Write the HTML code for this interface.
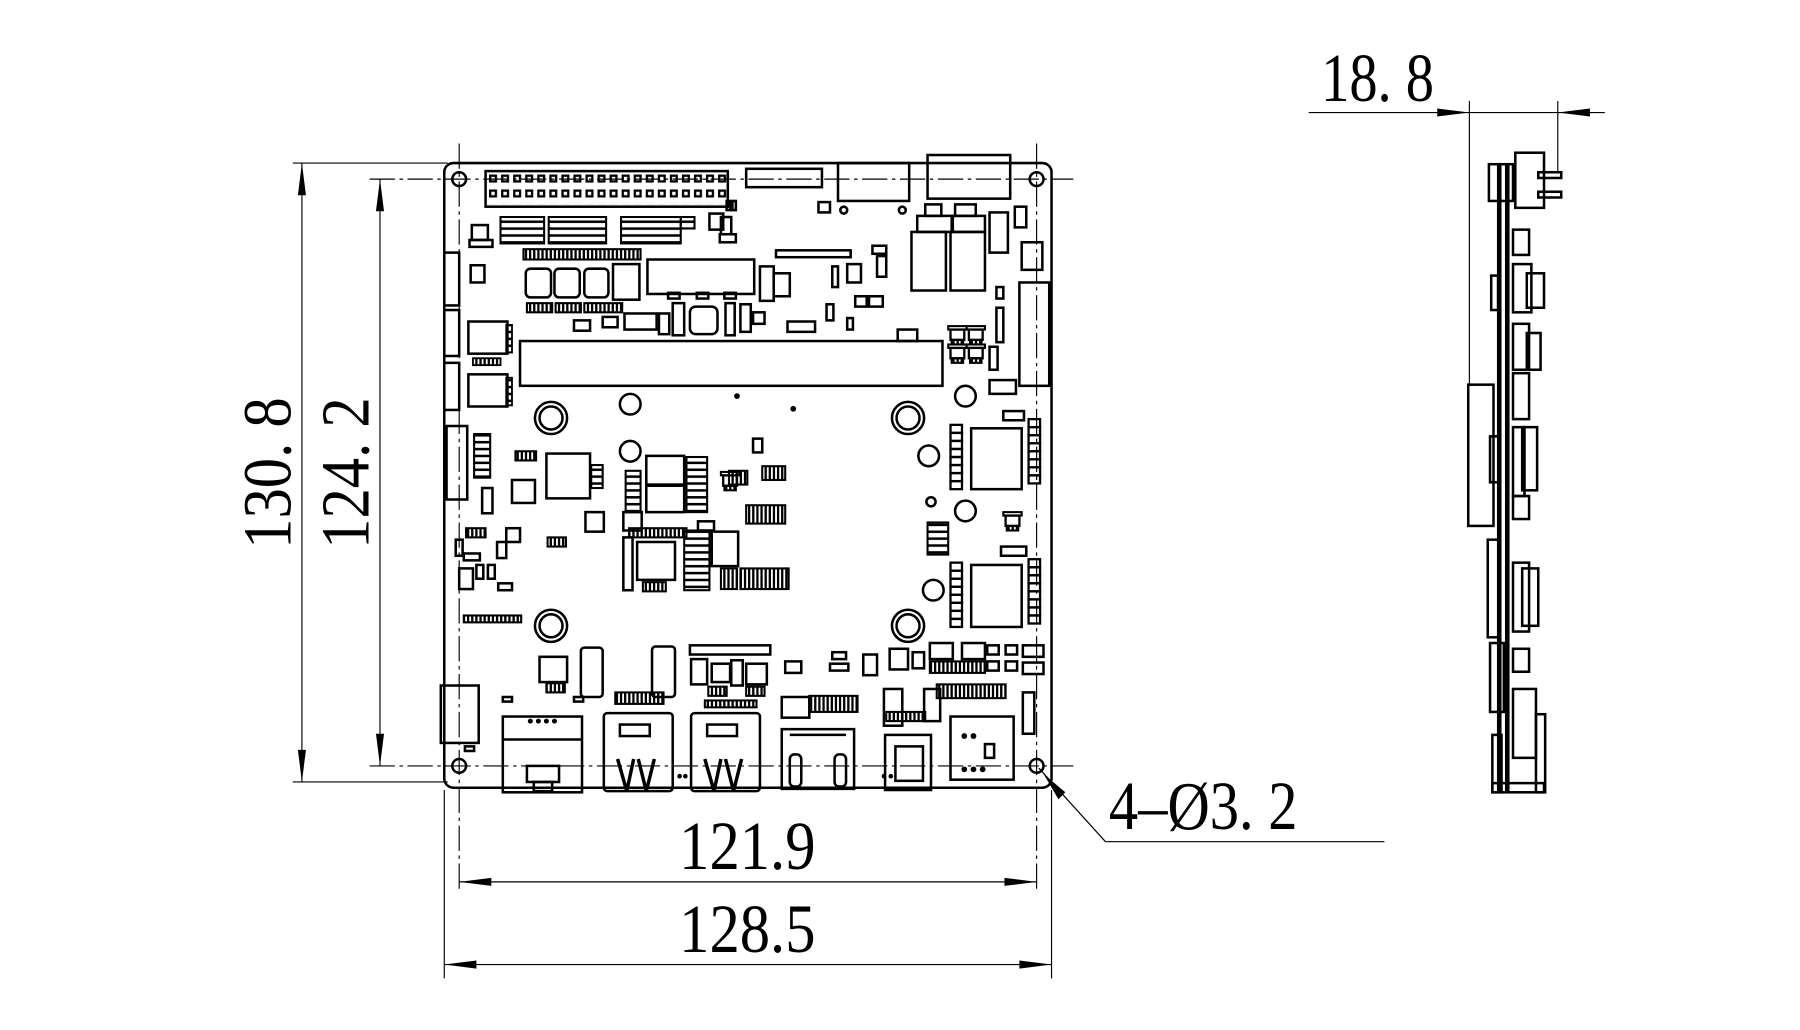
<!DOCTYPE html>
<html><head><meta charset="utf-8"><style>
html,body{margin:0;padding:0;background:#fff;}
svg{display:block;}
.o{fill:none;stroke:#000;stroke-width:2.2;}
.t{fill:none;stroke:#000;stroke-width:1;}
.f{fill:#000;stroke:none;}
text{font-family:"Liberation Serif",serif;fill:#000;}
</style></head><body>
<svg width="1800" height="1030" viewBox="0 0 1568 897" preserveAspectRatio="none" xmlns="http://www.w3.org/2000/svg">
<defs>
<pattern id="pins" x="426" y="152" width="10.5" height="13" patternUnits="userSpaceOnUse">
<rect x="1" y="1" width="5" height="5" fill="none" stroke="#000" stroke-width="2"/>
</pattern>
<pattern id="vs" x="0" y="0" width="3.6" height="10" patternUnits="userSpaceOnUse">
<rect x="0" y="0" width="2" height="10" fill="#000"/>
</pattern>
<pattern id="hs" x="0" y="0" width="10" height="6" patternUnits="userSpaceOnUse">
<rect x="0" y="0" width="10" height="2.2" fill="#000"/>
</pattern>
<g id="sot"><rect x="2" y="3" width="12" height="9" fill="none" stroke="#000" stroke-width="2"/><rect x="0" y="0" width="16" height="3" fill="none" stroke="#000" stroke-width="1.8"/><rect x="3" y="12" width="10" height="4" fill="url(#vs)" stroke="#000" stroke-width="1.8"/></g>
<g id="col"><rect x="0" y="0" width="10" height="7" fill="none" stroke="#000" stroke-width="2"/><rect x="0" y="7" width="10" height="7" fill="none" stroke="#000" stroke-width="2"/><rect x="0" y="14" width="10" height="7" fill="none" stroke="#000" stroke-width="2"/><rect x="0" y="21" width="10" height="7" fill="none" stroke="#000" stroke-width="2"/><rect x="0" y="28" width="10" height="7" fill="none" stroke="#000" stroke-width="2"/><rect x="0" y="35" width="10" height="7" fill="none" stroke="#000" stroke-width="2"/><rect x="0" y="42" width="10" height="7" fill="none" stroke="#000" stroke-width="2"/><rect x="0" y="49" width="10" height="7" fill="none" stroke="#000" stroke-width="2"/></g>
</defs>

<g stroke="#000" stroke-width="1" fill="none">
<line x1="255" y1="142" x2="390" y2="142"/>
<line x1="255" y1="681" x2="390" y2="681"/>
<line x1="322" y1="156" x2="935" y2="156" stroke-dasharray="22 4 3 4"/>
<line x1="322" y1="667" x2="935" y2="667" stroke-dasharray="22 4 3 4"/>
<line x1="400" y1="125" x2="400" y2="775" stroke-dasharray="22 4 3 4"/>
<line x1="903" y1="125" x2="903" y2="775" stroke-dasharray="22 4 3 4"/>
<line x1="387" y1="688" x2="387" y2="852"/>
<line x1="916" y1="688" x2="916" y2="852"/>
<line x1="263" y1="142" x2="263" y2="681"/>
<line x1="331" y1="156" x2="331" y2="667"/>
<line x1="400" y1="768" x2="903" y2="768"/>
<line x1="387" y1="840" x2="916" y2="840"/>
<line x1="905" y1="669" x2="963" y2="733"/>
<line x1="963" y1="733" x2="1206" y2="733"/>
</g>
<g class="f">
<polygon points="263,142 259.5,170 266.5,170"/>
<polygon points="263,681 259.5,653 266.5,653"/>
<polygon points="331,156 327.5,184 334.5,184"/>
<polygon points="331,667 327.5,639 334.5,639"/>
<polygon points="400,768 428,764.5 428,771.5"/>
<polygon points="903,768 875,764.5 875,771.5"/>
<polygon points="387,840 415,836.5 415,843.5"/>
<polygon points="916,840 888,836.5 888,843.5"/>
<polygon points="909,674 928,690 922,696"/>
<polygon points="1280,98 1252,94.5 1252,101.5"/>
<polygon points="1357,98 1385,94.5 1385,101.5"/>
</g>

<text font-size="60" text-anchor="middle" transform="translate(253,412) rotate(-90) scale(0.88,1)">130. 8</text>
<text font-size="60" text-anchor="middle" transform="translate(321,412) rotate(-90) scale(0.88,1)">124. 2</text>
<text font-size="60" text-anchor="middle" transform="translate(651,757) scale(0.88,1)">121.9</text>
<text font-size="60" text-anchor="middle" transform="translate(651,829) scale(0.88,1)">128.5</text>
<text font-size="60" text-anchor="middle" transform="translate(1200,88) scale(0.82,1)">18. 8</text>
<text font-size="60" transform="translate(966,722) scale(0.85,1)">4–Ø3. 2</text>

<g stroke="#000" stroke-width="1" fill="none">
<line x1="1140" y1="98" x2="1398" y2="98"/>
<line x1="1280" y1="88" x2="1280" y2="335"/>
<line x1="1357" y1="88" x2="1357" y2="150"/>
</g>

<rect x="387" y="142" width="529" height="544" rx="8" class="o"/>
<g class="o">
<circle cx="400" cy="156" r="6"/><circle cx="903" cy="156" r="6"/>
<circle cx="400" cy="667" r="6"/><circle cx="903" cy="667" r="6"/>
</g>
<rect x="423" y="149" width="211" height="31" class="o" stroke-width="2.6"/>
<rect x="425" y="151" width="208" height="27" fill="url(#pins)"/>
<rect x="650" y="147" width="66" height="16" class="o"/>
<rect x="730" y="142" width="62" height="33" class="o"/>
<rect x="808" y="135" width="72" height="38" class="o"/>
<circle cx="735" cy="183" r="3" class="o"/><circle cx="786" cy="183" r="3" class="o"/>
<rect x="453" y="297" width="368" height="39" class="o" stroke-width="2.4"/>
<rect x="564" y="226" width="93" height="30" class="o"/>
<rect x="534" y="230" width="23" height="31" class="o"/>
<rect x="458" y="234" width="22" height="25" rx="4" class="o"/>
<rect x="483" y="234" width="22" height="25" rx="4" class="o"/>
<rect x="509" y="234" width="21" height="25" rx="4" class="o"/>
<rect x="456" y="217" width="102" height="9" fill="url(#vs)" stroke="#000" stroke-width="1.8"/>
<rect x="459" y="264" width="22" height="8" fill="url(#vs)" stroke="#000" stroke-width="1.8"/>
<rect x="484" y="264" width="22" height="8" fill="url(#vs)" stroke="#000" stroke-width="1.8"/>
<rect x="509" y="264" width="33" height="8" fill="url(#vs)" stroke="#000" stroke-width="1.8"/>
<g fill="url(#hs)" stroke="#000" stroke-width="1.8">
<rect x="436" y="189" width="38" height="23"/>
<rect x="478" y="189" width="50" height="23"/>
<rect x="541" y="189" width="52" height="23"/>
<rect x="593" y="189" width="12" height="10"/>
</g>
<rect x="411" y="196" width="14" height="13" class="o"/>
<rect x="409" y="209" width="20" height="6" class="o"/>
<rect x="618" y="186" width="12" height="14" class="o"/>
<rect x="628" y="189" width="9" height="15" class="o"/>
<rect x="627" y="204" width="14" height="7" class="o"/>
<rect x="633" y="175" width="3" height="8" class="o"/><rect x="638" y="175" width="3" height="8" class="o"/>
<rect x="387" y="220" width="13" height="46" class="o"/>
<rect x="387" y="270" width="13" height="40" class="o"/>
<rect x="387" y="316" width="13" height="41" class="o"/>
<rect x="410" y="231" width="12" height="15" class="o"/>
<rect x="408" y="280" width="34" height="28" class="o"/>
<rect x="408" y="326" width="34" height="28" class="o"/>
<rect x="441" y="283" width="5" height="24" fill="url(#hs)" stroke="#000" stroke-width="1.6"/>
<rect x="441" y="329" width="5" height="24" fill="url(#hs)" stroke="#000" stroke-width="1.6"/>
<rect x="412" y="312" width="24" height="6" fill="url(#vs)" stroke="#000" stroke-width="1.6"/>
<rect x="389" y="371" width="18" height="64" class="o"/>
<rect x="384" y="597" width="33" height="50" class="o"/>
<g class="o" stroke-width="1.9">
<rect x="582" y="255" width="10" height="5"/><rect x="607" y="255" width="10" height="5"/><rect x="631" y="255" width="10" height="5"/>
<rect x="601" y="267" width="24" height="24" rx="5"/>
<rect x="586" y="264" width="10" height="28"/><rect x="632" y="264" width="8" height="28"/>
<rect x="544" y="273" width="28" height="14"/><rect x="574" y="273" width="9" height="18"/>
<rect x="525" y="276" width="13" height="9"/><rect x="500" y="279" width="14" height="9"/>
<rect x="662" y="232" width="12" height="30"/><rect x="674" y="238" width="14" height="20"/>
<rect x="645" y="265" width="9" height="24"/><rect x="656" y="272" width="10" height="10"/>
<rect x="686" y="280" width="24" height="9"/>
<rect x="720" y="265" width="6" height="14"/>
<rect x="745" y="258" width="10" height="9"/><rect x="757" y="258" width="12" height="9"/>
<rect x="738" y="277" width="5" height="10"/>
<rect x="782" y="287" width="17" height="10"/>
<rect x="676" y="218" width="65" height="6"/>
<rect x="725" y="232" width="5" height="18"/><rect x="738" y="230" width="12" height="16"/>
<rect x="760" y="214" width="12" height="7"/><rect x="764" y="223" width="8" height="18"/>
<rect x="713" y="176" width="10" height="9"/>
</g>
<g class="o">
<rect x="794" y="202" width="30" height="51"/><rect x="828" y="202" width="30" height="51"/>
<rect x="799" y="188" width="30" height="14"/><rect x="830" y="188" width="28" height="14"/>
<rect x="806" y="178" width="14" height="10"/><rect x="832" y="178" width="18" height="10"/>
<rect x="862" y="185" width="16" height="35"/>
<rect x="884" y="180" width="10" height="18"/>
<rect x="890" y="211" width="18" height="24"/>
<rect x="888" y="246" width="26" height="90" stroke-width="2.2"/>
<rect x="862" y="331" width="23" height="12"/>
<rect x="868" y="250" width="6" height="10"/>
<rect x="868" y="268" width="6" height="30"/>
<rect x="862" y="302" width="7" height="20"/>
</g>
<use href="#sot" x="826" y="284"/><use href="#sot" x="842" y="284"/>
<use href="#sot" x="826" y="300"/><use href="#sot" x="842" y="300"/>
<g class="o">
<circle cx="480" cy="364" r="14"/><circle cx="480" cy="364" r="10"/>
<circle cx="791" cy="364" r="14"/><circle cx="791" cy="364" r="10"/>
<circle cx="480" cy="545" r="14"/><circle cx="480" cy="545" r="10"/>
<circle cx="791" cy="545" r="14"/><circle cx="791" cy="545" r="10"/>
<circle cx="549" cy="352" r="9"/><circle cx="549" cy="393" r="9"/>
<circle cx="841" cy="345" r="9"/><circle cx="809" cy="397" r="9"/>
<circle cx="841" cy="445" r="9"/><circle cx="813" cy="514" r="9"/>
<circle cx="811" cy="437" r="4"/>
</g>
<circle cx="642" cy="345" r="2.5" class="f"/><circle cx="691" cy="356" r="2.5" class="f"/>
<rect x="846" y="373" width="44" height="53" class="o"/>
<rect x="846" y="492" width="44" height="54" class="o"/>
<use href="#col" x="828" y="370"/><use href="#col" x="896" y="365"/>
<use href="#col" x="828" y="490"/><use href="#col" x="896" y="487"/>
<rect x="874" y="358" width="18" height="8" class="o"/>
<rect x="808" y="455" width="18" height="28" fill="url(#hs)" stroke="#000" stroke-width="1.8"/>
<use href="#sot" x="874" y="446"/>
<rect x="872" y="476" width="22" height="8" class="o"/>
<g class="o">
<rect x="476" y="395" width="38" height="39"/>
<rect x="446" y="418" width="20" height="20"/>
<rect x="563" y="397" width="33" height="25"/>
<rect x="563" y="423" width="33" height="23"/>
<rect x="555" y="472" width="33" height="33"/>
<rect x="620" y="463" width="23" height="30"/>
<rect x="543" y="446" width="16" height="16"/>
<rect x="510" y="446" width="16" height="17"/>
<rect x="433" y="472" width="8" height="14"/>
<rect x="420" y="425" width="9" height="22"/>
</g>
<g fill="url(#hs)" stroke="#000" stroke-width="1.8">
<rect x="598" y="398" width="18" height="48"/>
<rect x="545" y="410" width="13" height="36"/>
<rect x="596" y="462" width="22" height="52"/>
<rect x="413" y="378" width="14" height="38"/>
<rect x="515" y="405" width="10" height="20"/>
</g>
<g fill="url(#vs)" stroke="#000" stroke-width="1.8">
<rect x="650" y="440" width="34" height="16"/>
<rect x="645" y="495" width="42" height="18"/>
<rect x="628" y="495" width="14" height="18"/>
<rect x="548" y="460" width="50" height="8"/>
<rect x="560" y="507" width="20" height="8"/>
<rect x="449" y="393" width="18" height="8"/>
<rect x="406" y="460" width="17" height="8"/>
<rect x="477" y="468" width="16" height="8"/>
<rect x="635" y="410" width="16" height="12"/>
<rect x="664" y="406" width="20" height="12"/>
<rect x="404" y="536" width="50" height="6"/>
</g>
<use href="#sot" x="628" y="411"/>
<rect x="543" y="468" width="8" height="46" class="o"/>
<rect x="608" y="454" width="14" height="8" class="o"/>
<rect x="656" y="382" width="8" height="12" class="o"/>
<g class="o" stroke-width="1.8">
<rect x="397" y="470" width="6" height="14"/><rect x="404" y="482" width="14" height="6"/>
<rect x="400" y="495" width="12" height="18"/><rect x="415" y="492" width="6" height="12"/><rect x="425" y="492" width="6" height="12"/>
<rect x="434" y="508" width="12" height="6"/><rect x="441" y="460" width="12" height="12"/>
</g>
<g class="o">
<rect x="506" y="564" width="19" height="43" rx="3"/>
<rect x="568" y="563" width="20" height="44" rx="3"/>
<rect x="470" y="572" width="24" height="22"/>
<rect x="602" y="574" width="14" height="22"/>
<rect x="620" y="578" width="16" height="16"/>
<rect x="637" y="575" width="10" height="22"/>
<rect x="650" y="578" width="18" height="18"/>
<rect x="601" y="562" width="70" height="8"/>
<rect x="684" y="576" width="14" height="10"/>
<rect x="725" y="568" width="12" height="6"/><rect x="723" y="578" width="16" height="6"/>
<rect x="752" y="570" width="12" height="18"/>
<rect x="775" y="565" width="16" height="18"/>
<rect x="795" y="568" width="10" height="14"/>
<rect x="810" y="560" width="20" height="14"/>
<rect x="838" y="560" width="20" height="14"/>
<rect x="860" y="562" width="10" height="8"/><rect x="876" y="562" width="10" height="8"/>
<rect x="860" y="576" width="10" height="8"/><rect x="876" y="576" width="10" height="8"/>
<rect x="891" y="562" width="18" height="10"/><rect x="891" y="577" width="18" height="10"/>
<rect x="891" y="603" width="10" height="36"/>
<rect x="770" y="600" width="16" height="32"/>
<rect x="805" y="600" width="14" height="28"/>
<rect x="681" y="607" width="24" height="18"/>
<rect x="438" y="607" width="8" height="4"/><rect x="500" y="607" width="8" height="4"/>
<rect x="405" y="650" width="8" height="4"/>
</g>
<g fill="url(#vs)" stroke="#000" stroke-width="1.8">
<rect x="810" y="576" width="48" height="10"/>
<rect x="705" y="606" width="42" height="14"/>
<rect x="816" y="596" width="60" height="12"/>
<rect x="476" y="595" width="16" height="8"/>
<rect x="617" y="598" width="16" height="8"/>
<rect x="650" y="598" width="16" height="8"/>
<rect x="536" y="603" width="42" height="10"/>
<rect x="614" y="610" width="45" height="6"/>
<rect x="772" y="620" width="34" height="8"/>
</g>
<g class="o">
<rect x="438" y="624" width="69" height="66"/>
<line x1="438" y1="644" x2="507" y2="644"/>
<rect x="459" y="667" width="28" height="14"/>
<rect x="465" y="681" width="16" height="8"/>
</g>
<g class="f"><circle cx="462" cy="628" r="2.2"/><circle cx="469" cy="628" r="2.2"/><circle cx="476" cy="628" r="2.2"/><circle cx="483" cy="628" r="2.2"/></g>
<g class="o">
<rect x="526" y="621" width="60" height="68" rx="3"/>
<rect x="602" y="621" width="60" height="68" rx="3"/>
<path d="M538 661 L546 689 L552 661 M556 661 L563 689 L570 661" stroke-width="3"/>
<path d="M614 661 L622 689 L628 661 M632 661 L639 689 L646 661" stroke-width="3"/>
<rect x="540" y="631" width="26" height="10"/>
<rect x="616" y="631" width="26" height="10"/>
<rect x="681" y="635" width="63" height="52"/>
<rect x="688" y="657" width="10" height="28" rx="4"/>
<rect x="727" y="657" width="10" height="28" rx="4"/>
<line x1="688" y1="640" x2="737" y2="640"/>
<rect x="771" y="640" width="40" height="48"/>
<rect x="780" y="650" width="24" height="30"/>
<rect x="828" y="624" width="55" height="55"/>
<rect x="858" y="648" width="8" height="12"/>
</g>
<g class="f"><circle cx="597" cy="676" r="2"/><circle cx="592" cy="676" r="2"/><circle cx="770" cy="676" r="2"/><circle cx="776" cy="676" r="2"/>
<circle cx="840" cy="670" r="2.5"/><circle cx="848" cy="670" r="2.5"/><circle cx="856" cy="670" r="2.5"/><circle cx="840" cy="641" r="2.5"/><circle cx="848" cy="641" r="2.5"/></g>

<!-- side view -->
<g class="o">
<rect x="1304" y="142" width="4" height="548" fill="#000" stroke="none"/>
<rect x="1311" y="142" width="4" height="548" fill="#000" stroke="none"/>
<rect x="1297" y="143" width="21" height="32"/>
<rect x="1320" y="133" width="25" height="48"/>
<rect x="1340" y="150" width="20" height="5"/>
<rect x="1340" y="167" width="20" height="5"/>
<rect x="1279" y="335" width="22" height="123"/>
<rect x="1318" y="200" width="14" height="22"/>
<rect x="1318" y="230" width="16" height="42"/><rect x="1330" y="238" width="15" height="30"/>
<rect x="1318" y="282" width="14" height="40"/><rect x="1330" y="290" width="12" height="32"/>
<rect x="1318" y="325" width="14" height="40"/>
<rect x="1318" y="372" width="10" height="60"/><rect x="1326" y="372" width="13" height="55"/>
<rect x="1318" y="432" width="14" height="20"/>
<rect x="1318" y="490" width="14" height="60"/><rect x="1326" y="495" width="14" height="50"/>
<rect x="1318" y="565" width="14" height="20"/>
<rect x="1318" y="600" width="20" height="60"/><rect x="1338" y="622" width="8" height="68"/>
<rect x="1296" y="470" width="10" height="85"/>
<rect x="1298" y="560" width="12" height="60"/>
<rect x="1300" y="640" width="8" height="50"/>
<rect x="1300" y="682" width="45" height="8"/>
<rect x="1299" y="240" width="6" height="30"/>
<rect x="1298" y="380" width="8" height="40"/>
</g>
</svg>
</body></html>
